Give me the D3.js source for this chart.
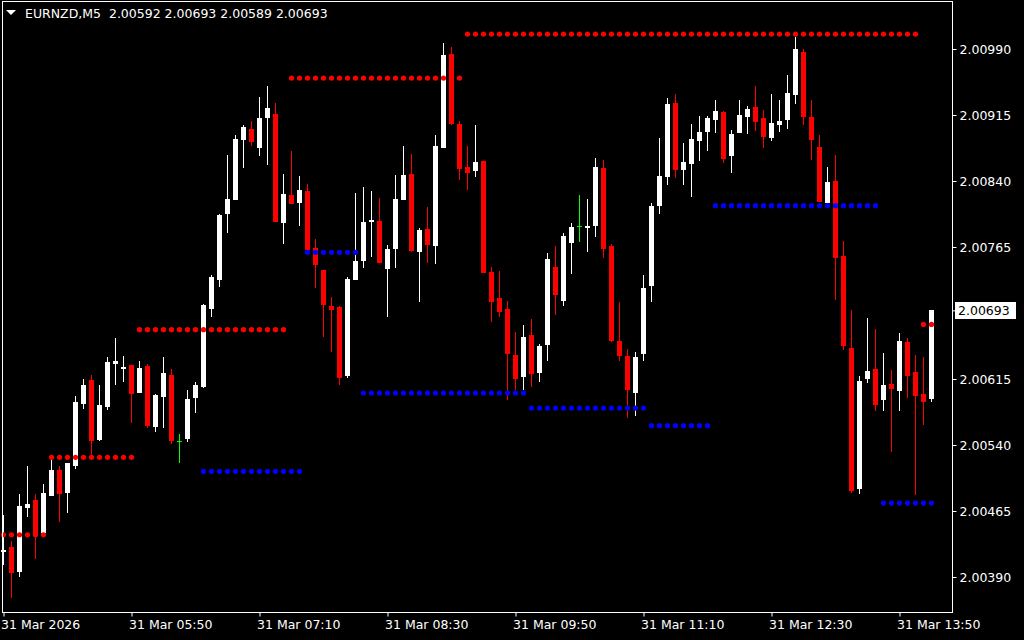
<!DOCTYPE html>
<html><head><meta charset="utf-8">
<script src="https://cdn.jsdelivr.net/npm/d3@7"></script>
<style>
html,body{margin:0;padding:0;background:#000;}
svg{display:block;}
text{font-family:"DejaVu Sans",sans-serif;}
</style></head>
<body>
<svg id="c" width="1024" height="640"></svg>
<script>
const symbol = "EURNZD,M5";
const timeLabels = ["31 Mar 2026","31 Mar 05:50","31 Mar 07:10","31 Mar 08:30","31 Mar 09:50","31 Mar 11:10","31 Mar 12:30","31 Mar 13:50"];
const timeTickBars = [0,16,32,48,64,80,96,112];
const priceTicks = [2.00990,2.00915,2.00840,2.00765,2.00615,2.00540,2.00465,2.00390];
const currentPrice = 2.00693;

const open = [2.00418,2.00424,2.00396,2.00468,2.00477,2.00440,2.00482,2.00512,2.00485,2.00516,
2.00587,2.00614,2.00546,2.00583,2.00632,2.00626,2.00631,2.00599,2.00630,2.00561,
2.00595,2.00620,2.00545,2.00547,2.00593,2.00606,2.00695,2.00727,2.00802,2.00818,
2.00887,2.00899,2.00877,2.00912,2.00916,2.00792,2.00824,2.00815,2.00829,2.00764,
2.00739,2.00698,2.00697,2.00618,2.00727,2.00749,2.00793,2.00795,2.00740,2.00763,
2.00818,2.00848,2.00759,2.00785,2.00766,2.00878,2.00984,2.00905,2.00856,2.00851,
2.00863,2.00737,2.00707,2.00694,2.00642,2.00617,2.00665,2.00622,2.00654,2.00742,
2.00704,2.00770,2.00789,2.00787,2.00789,2.00855,2.00766,2.00658,2.00641,2.00599,
2.00643,2.00721,2.00812,2.00845,2.00929,2.00852,2.00859,2.00886,2.00896,2.00909,
2.00918,2.00868,2.00894,2.00913,2.00924,2.00912,2.00889,2.00904,2.00909,2.00938,
2.00987,2.00913,2.00879,2.00815,2.00840,2.00755,2.00650,2.00490,2.00615,2.00626,
2.00591,2.00609,2.00601,2.00657,2.00623,2.00598,2.00592];
const high = [2.00461,2.00431,2.00484,2.00516,2.00484,2.00496,2.00523,2.00516,2.00520,2.00596,
2.00615,2.00620,2.00608,2.00640,2.00662,2.00641,2.00631,2.00636,2.00632,2.00598,
2.00640,2.00626,2.00552,2.00602,2.00612,2.00700,2.00733,2.00803,2.00870,2.00892,
2.00904,2.00908,2.00936,2.00948,2.00929,2.00848,2.00874,2.00846,2.00837,2.00774,
2.00739,2.00708,2.00698,2.00731,2.00826,2.00833,2.00829,2.00821,2.00767,2.00847,
2.00880,2.00871,2.00787,2.00810,2.00892,2.00997,2.00992,2.00908,2.00880,2.00904,
2.00863,2.00742,2.00738,2.00704,2.00668,2.00676,2.00683,2.00655,2.00758,2.00766,
2.00781,2.00792,2.00824,2.00820,2.00866,2.00864,2.00768,2.00702,2.00649,2.00646,
2.00733,2.00815,2.00889,2.00934,2.00939,2.00883,2.00905,2.00914,2.00914,2.00932,
2.00920,2.00898,2.00932,2.00925,2.00948,2.00921,2.00939,2.00932,2.00960,2.01004,
2.00990,2.00932,2.00892,2.00856,2.00870,2.00772,2.00693,2.00618,2.00684,2.00672,
2.00645,2.00625,2.00667,2.00662,2.00642,2.00640,2.00693];
const low = [2.00404,2.00366,2.00390,2.00458,2.00410,2.00440,2.00482,2.00452,2.00463,2.00513,
2.00581,2.00527,2.00544,2.00580,2.00608,2.00612,2.00565,2.00599,2.00559,2.00555,
2.00559,2.00541,2.00520,2.00543,2.00576,2.00605,2.00685,2.00719,2.00781,2.00818,
2.00855,2.00880,2.00868,2.00858,2.00793,2.00768,2.00814,2.00789,2.00762,2.00718,
2.00663,2.00646,2.00608,2.00616,2.00727,2.00741,2.00754,2.00747,2.00685,2.00741,
2.00818,2.00759,2.00703,2.00747,2.00746,2.00877,2.00904,2.00841,2.00830,2.00844,
2.00735,2.00680,2.00686,2.00591,2.00602,2.00602,2.00606,2.00612,2.00635,2.00688,
2.00698,2.00734,2.00771,2.00759,2.00776,2.00753,2.00657,2.00635,2.00571,2.00573,
2.00635,2.00702,2.00803,2.00836,2.00843,2.00835,2.00822,2.00863,2.00874,2.00895,
2.00860,2.00849,2.00894,2.00893,2.00897,2.00877,2.00886,2.00896,2.00899,2.00927,
2.00904,2.00864,2.00816,2.00815,2.00705,2.00648,2.00485,2.00484,2.00610,2.00579,
2.00579,2.00532,2.00579,2.00593,2.00483,2.00563,2.00589];
const close = [2.00421,2.00395,2.00471,2.00473,2.00438,2.00485,2.00512,2.00484,2.00520,2.00589,
2.00608,2.00545,2.00586,2.00634,2.00636,2.00629,2.00598,2.00628,2.00562,2.00597,
2.00622,2.00544,2.00545,2.00592,2.00608,2.00699,2.00731,2.00801,2.00820,2.00888,
2.00901,2.00884,2.00912,2.00923,2.00793,2.00825,2.00814,2.00830,2.00762,2.00745,
2.00699,2.00693,2.00616,2.00729,2.00749,2.00793,2.00796,2.00747,2.00763,2.00820,
2.00847,2.00760,2.00784,2.00767,2.00880,2.00983,2.00905,2.00854,2.00849,2.00862,
2.00735,2.00702,2.00691,2.00643,2.00615,2.00663,2.00621,2.00652,2.00751,2.00711,
2.00778,2.00788,2.00789,2.00789,2.00856,2.00763,2.00658,2.00641,2.00602,2.00640,
2.00718,2.00812,2.00846,2.00928,2.00853,2.00862,2.00888,2.00896,2.00912,2.00920,
2.00865,2.00893,2.00915,2.00922,2.00907,2.00890,2.00906,2.00908,2.00940,2.00990,
2.00913,2.00887,2.00816,2.00839,2.00752,2.00652,2.00488,2.00613,2.00624,2.00586,
2.00608,2.00604,2.00658,2.00618,2.00596,2.00589,2.00693];

// dotted levels: [fromBar, toBar, price]
const resistanceLevels = [[0,5,2.00438],[6,16,2.00526],[17,35,2.00671],[36,57,2.00957],[58,114,2.01007],[115,116,2.00677]];
const supportLevels = [[25,37,2.00510],[38,44,2.00759],[45,65,2.00599],[66,80,2.00582],[81,88,2.00562],[89,109,2.00812],[110,116,2.00474]];

const FS = "12.5px";
const svg = d3.select("#c");
const n = open.length;
const x = d3.scaleLinear().domain([0, n-1]).range([3.5, 3.5 + 8*(n-1)]);
const y = d3.scaleLinear().domain([2.00390, 2.00990]).range([577, 49]);

const bars = d3.range(n).map(i => ({i, o:open[i], h:high[i], l:low[i], c:close[i]}));
const colorOf = d => d.o === d.c ? "#00ff00" : (d.c > d.o ? "#ffffff" : "#ff0000");

const plot = svg.append("g");
plot.selectAll("rect.wick").data(bars).join("rect")
  .attr("class","wick")
  .attr("x", d => x(d.i) - 0.5)
  .attr("width", 1)
  .attr("y", d => Math.round(y(d.h)))
  .attr("height", d => Math.max(1, Math.round(y(d.l)) - Math.round(y(d.h))))
  .attr("fill", colorOf);

plot.selectAll("rect.body").data(bars).join("rect")
  .attr("class","body")
  .attr("x", d => x(d.i) - 2.5)
  .attr("width", 5)
  .attr("y", d => Math.round(y(Math.max(d.o, d.c))))
  .attr("height", d => Math.max(1, Math.round(y(Math.min(d.o, d.c))) - Math.round(y(Math.max(d.o, d.c)))))
  .attr("fill", colorOf);

function dots(levels, color) {
  const pts = [];
  levels.forEach(([a,b,v]) => { for (let i=a;i<=b;i++) pts.push({i, v}); });
  plot.append("g").selectAll("circle").data(pts).join("circle")
    .attr("cx", d => x(d.i)).attr("cy", d => y(d.v)).attr("r", 2.6)
    .attr("fill", color);
}
dots(resistanceLevels, "#ff0000");
dots(supportLevels, "#0000ff");

// frame
svg.append("rect").attr("x",2.5).attr("y",1.5).attr("width",950).attr("height",611)
  .attr("fill","none").attr("stroke","#ffffff").attr("stroke-width",1);

// right axis
const ay = svg.append("g").attr("transform","translate(952.5,0)")
  .call(d3.axisRight(y).tickValues(priceTicks.concat([currentPrice])).tickSize(4).tickPadding(3).tickFormat(d3.format(".5f")));
ay.select(".domain").remove();
ay.selectAll("line").attr("stroke","#ffffff");
ay.selectAll("text").attr("fill","#ffffff").style("font-size",FS).style("font-family","DejaVu Sans");
ay.selectAll(".tick").filter(d => d === currentPrice).select("text").remove();

// current price box
const cp = svg.append("g");
cp.append("rect").attr("x",955).attr("y",Math.round(y(currentPrice))-8).attr("width",61).attr("height",17).attr("fill","#ffffff");
cp.append("text").attr("x",958).attr("y",y(currentPrice)).attr("dy","0.35em")
  .attr("fill","#000000").style("font-size",FS).text(d3.format(".5f")(currentPrice));

// bottom axis
const ax = svg.append("g").attr("transform","translate(0,612.5)")
  .call(d3.axisBottom(x).tickValues(timeTickBars).tickSize(4).tickFormat((d,k) => timeLabels[k]));
ax.select(".domain").remove();
ax.selectAll("line").attr("stroke","#ffffff");
ax.selectAll("text").attr("fill","#ffffff").attr("text-anchor","start").attr("dx","-3").attr("y",8)
  .style("font-size",FS).style("font-family","DejaVu Sans");

// title
svg.append("path").attr("d","M6,10 L16,10 L11,15 Z").attr("fill","#ffffff");
const last = n-1;
const f5 = d3.format(".5f");
svg.append("text").attr("x",25).attr("y",18).attr("fill","#ffffff").style("font-size",FS)
  .attr("xml:space","preserve")
  .text(symbol + "  " + [open[last],high[last],low[last],close[last]].map(f5).join(" "));
</script>
</body></html>
